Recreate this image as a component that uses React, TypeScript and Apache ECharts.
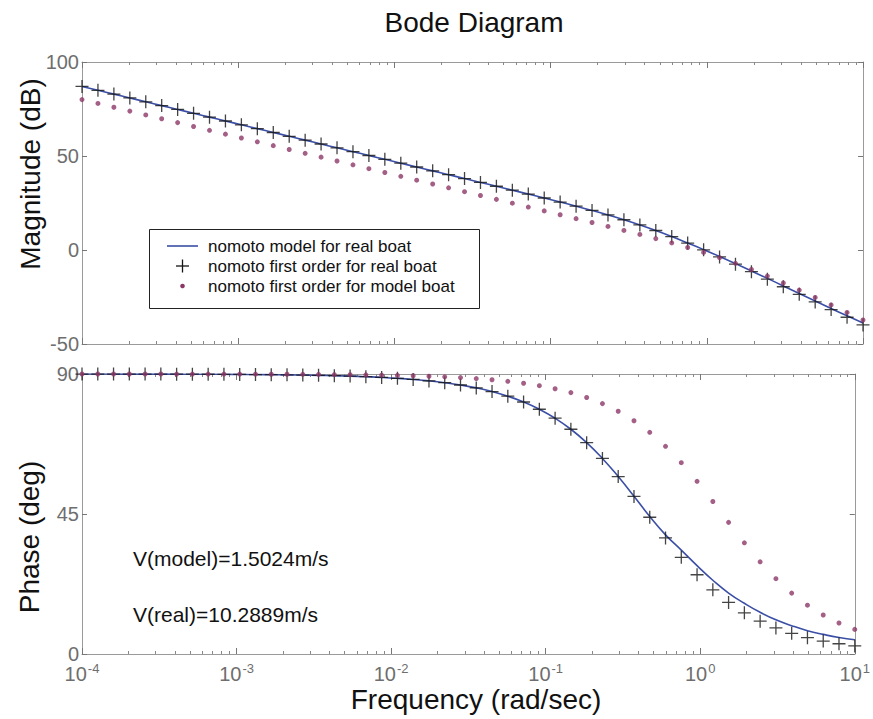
import React, { useEffect, useRef } from "react";
import * as echarts from "echarts";

// Frequencies (rad/sec), 50 log-spaced samples from 1e-4 to 10
const freq = [
  1.0e-4, 1.265e-4, 1.6e-4, 2.024e-4, 2.56e-4, 3.237e-4, 4.095e-4, 5.179e-4, 6.551e-4, 8.286e-4,
  1.048e-3, 1.326e-3, 1.677e-3, 2.121e-3, 2.683e-3, 3.393e-3, 4.292e-3, 5.429e-3, 6.866e-3, 8.685e-3,
  1.099e-2, 1.389e-2, 1.758e-2, 2.223e-2, 2.812e-2, 3.556e-2, 4.498e-2, 5.69e-2, 7.197e-2, 9.103e-2,
  0.1151, 0.1456, 0.1842, 0.233, 0.2947, 0.3728, 0.4715, 0.5964, 0.7543, 0.9541,
  1.207, 1.526, 1.931, 2.442, 3.089, 3.907, 4.942, 6.251, 7.906, 10.0,
];

// Magnitude (dB)
const magModelReal = [
  87.0, 84.96, 82.92, 80.88, 78.84, 76.8, 74.76, 72.71, 70.67, 68.63,
  66.59, 64.55, 62.51, 60.47, 58.43, 56.39, 54.35, 52.31, 50.27, 48.22,
  46.18, 44.14, 42.1, 40.05, 38.0, 35.95, 33.9, 31.83, 29.75, 27.65,
  25.51, 23.31, 21.03, 18.64, 16.09, 13.34, 10.36, 7.14, 3.7, 0.2,
  -3.45, -7.25, -11.15, -15.1, -19.1, -23.1, -27.1, -31.1, -35.0, -38.8,
];
const magFirstReal = [
  87.0, 84.96, 82.92, 80.88, 78.84, 76.8, 74.76, 72.71, 70.67, 68.63,
  66.59, 64.55, 62.51, 60.47, 58.43, 56.39, 54.35, 52.31, 50.27, 48.22,
  46.18, 44.14, 42.1, 40.05, 38.0, 35.95, 33.9, 31.83, 29.75, 27.65,
  25.51, 23.31, 21.03, 18.64, 16.09, 13.34, 10.36, 7.14, 3.7, 0.08,
  -3.69, -7.56, -11.51, -15.51, -19.54, -23.58, -27.64, -31.71, -35.78, -39.86,
];
const magFirstModel = [
  80.0, 77.96, 75.92, 73.88, 71.84, 69.8, 67.76, 65.71, 63.67, 61.63,
  59.59, 57.55, 55.51, 53.47, 51.43, 49.39, 47.35, 45.31, 43.27, 41.22,
  39.18, 37.14, 35.1, 33.06, 31.02, 28.98, 26.93, 24.89, 22.85, 20.8,
  18.75, 16.68, 14.61, 12.53, 10.42, 8.27, 6.06, 3.75, 1.33, -1.27,
  -4.07, -7.11, -10.38, -13.88, -17.54, -21.34, -25.23, -29.2, -33.2, -37.23,
];

// Phase (deg)
const phaseModelReal = [
  89.99, 89.98, 89.98, 89.97, 89.97, 89.96, 89.95, 89.93, 89.92, 89.9,
  89.87, 89.83, 89.79, 89.73, 89.66, 89.57, 89.46, 89.32, 89.13, 88.91,
  88.62, 88.25, 87.79, 87.2, 86.46, 85.53, 84.35, 82.86, 81.0, 78.67,
  75.79, 72.24, 67.94, 62.86, 57.04, 50.7, 44.2, 38.3, 33.4, 28.4,
  23.7, 19.6, 16.3, 13.4, 11.0, 9.1, 7.5, 6.3, 5.3, 4.6,
];
const phaseFirstReal = [
  89.99, 89.98, 89.98, 89.97, 89.97, 89.96, 89.95, 89.93, 89.92, 89.9,
  89.87, 89.83, 89.79, 89.73, 89.66, 89.57, 89.46, 89.32, 89.13, 88.91,
  88.62, 88.25, 87.79, 87.2, 86.46, 85.53, 84.35, 82.86, 81.0, 78.67,
  75.79, 72.24, 67.94, 62.86, 57.04, 50.64, 43.95, 37.31, 31.07, 25.48,
  20.64, 16.59, 13.25, 10.55, 8.37, 6.64, 5.26, 4.16, 3.29, 2.6,
];
const phaseFirstModel = [
  90.0, 89.99, 89.99, 89.99, 89.99, 89.99, 89.98, 89.98, 89.97, 89.97,
  89.96, 89.95, 89.93, 89.91, 89.89, 89.86, 89.82, 89.78, 89.72, 89.64,
  89.55, 89.43, 89.27, 89.08, 88.84, 88.53, 88.15, 87.65, 87.03, 86.25,
  85.26, 84.02, 82.45, 80.48, 78.02, 74.98, 71.25, 66.76, 61.49, 55.51,
  49.01, 42.31, 35.73, 29.63, 24.21, 19.57, 15.7, 12.53, 9.96, 7.91,
];

const legendNames = [
  "nomoto model for real boat",
  "nomoto first order for real boat",
  "nomoto first order for model boat",
];
const annotations = ["V(model)=1.5024m/s", "V(real)=10.2889m/s"];

const FONT = '"Liberation Sans", Arial, Helvetica, sans-serif';
const AXIS_COLOR = "#9a9a9a";
const LABEL_COLOR = "#6e6e6e";
const BLUE = "#3b4fa6";
const BLACK = "#151515";
const PURPLE = "#8c3767";
const PLUS = "path://M45,0H55V45H100V55H55V100H45V55H0V45H45Z";

const minorTicks: number[] = [];
for (let e = -4; e < 1; e++) {
  for (let d = 2; d <= 9; d++) minorTicks.push(d * Math.pow(10, e));
}

const pair = (xs: number[], ys: number[]) => xs.map((x, i) => [x, ys[i]]);

export default function App() {
  const ref = useRef<HTMLDivElement>(null);
  useEffect(() => {
    document.body.style.margin = "0";
    const chart = echarts.init(ref.current!, null, { renderer: "svg" });
    const logBase = { type: "log", logBase: 10, min: 1e-4, max: 10, splitLine: { show: false } };
    const axisLine = { show: true, onZero: false, lineStyle: { color: AXIS_COLOR, width: 1 } };
    const majorX = (gridIndex: number, position: string, labels: boolean) => ({
      ...logBase,
      gridIndex,
      position,
      axisLine,
      axisTick: { show: true, inside: true, length: 6, lineStyle: { color: "#777" } },
      axisLabel: labels
        ? {
            show: true,
            margin: 8,
            fontFamily: FONT,
            formatter: (v: number) => `{b|10}{s|${Math.round(Math.log10(v))}}`,
            rich: {
              b: { fontSize: 20, color: LABEL_COLOR, fontFamily: FONT, verticalAlign: "bottom", lineHeight: 22 },
              s: { fontSize: 13, color: LABEL_COLOR, fontFamily: FONT, verticalAlign: "top", lineHeight: 14, padding: [0, 0, 16, 1] },
            },
          }
        : { show: false },
    });
    const minorX = (gridIndex: number, position: string) => ({
      ...logBase,
      gridIndex,
      position,
      axisLine: { show: false, onZero: false },
      axisLabel: { show: false },
      axisTick: { show: true, inside: true, length: 3, customValues: minorTicks, lineStyle: { color: "#888" } },
    });
    const yAx = (gridIndex: number, position: string, min: number, max: number, interval: number, labels: boolean) => ({
      type: "value",
      gridIndex,
      position,
      min,
      max,
      interval,
      splitLine: { show: false },
      axisLine,
      axisTick: { show: true, inside: true, length: 5, lineStyle: { color: "#777" } },
      axisLabel: labels
        ? { show: true, margin: 3, fontSize: 20, color: LABEL_COLOR, fontFamily: FONT }
        : { show: false },
    });
    const lineS = (xi: number, yi: number, ys: number[]) => ({
      name: legendNames[0],
      type: "line",
      xAxisIndex: xi,
      yAxisIndex: yi,
      data: pair(freq, ys),
      showSymbol: false,
      smooth: true,
      lineStyle: { color: BLUE, width: 1.6 },
      z: 2,
    });
    const plusS = (xi: number, yi: number, ys: number[]) => ({
      name: legendNames[1],
      type: "scatter",
      xAxisIndex: xi,
      yAxisIndex: yi,
      data: pair(freq, ys),
      symbol: PLUS,
      symbolSize: 13,
      clip: false,
      itemStyle: { color: BLACK },
      z: 3,
    });
    const dotS = (xi: number, yi: number, ys: number[]) => ({
      name: legendNames[2],
      type: "scatter",
      xAxisIndex: xi,
      yAxisIndex: yi,
      data: pair(freq, ys),
      symbol: "circle",
      symbolSize: 5,
      clip: false,
      itemStyle: { color: PURPLE },
      z: 4,
    });
    const txt = (text: string, x: number, y: number, size: number, extra: any = {}) => ({
      type: "text",
      x,
      y,
      ...extra,
      style: { text, fontSize: size, fontFamily: FONT, fill: "#111", align: "center", verticalAlign: "middle", ...(extra.style || {}) },
    });
    const option: any = {
      animation: false,
      backgroundColor: "#ffffff",
      grid: [
        { left: 82, top: 62, width: 781, height: 282 },
        { left: 82, top: 374, width: 781, height: 280 },
      ],
      xAxis: [
        majorX(0, "bottom", false),
        majorX(0, "top", false),
        majorX(1, "bottom", true),
        majorX(1, "top", false),
        minorX(0, "bottom"),
        minorX(0, "top"),
        minorX(1, "bottom"),
        minorX(1, "top"),
      ],
      yAxis: [
        yAx(0, "left", -50, 100, 50, true),
        yAx(0, "right", -50, 100, 50, false),
        yAx(1, "left", 0, 90, 45, true),
        yAx(1, "right", 0, 90, 45, false),
      ],
      series: [
        lineS(0, 0, magModelReal),
        plusS(0, 0, magFirstReal),
        dotS(0, 0, magFirstModel),
        lineS(2, 2, phaseModelReal),
        plusS(2, 2, phaseFirstReal),
        dotS(2, 2, phaseFirstModel),
      ],
      graphic: [
        txt("Bode Diagram", 474, 22, 28),
        txt("Magnitude (dB)", 30, 174, 28, { rotation: Math.PI / 2 }),
        txt("Phase (deg)", 29, 537, 28, { rotation: Math.PI / 2 }),
        txt("Frequency (rad/sec)", 476, 699, 28),
        txt(annotations[0], 133, 558, 21, { style: { align: "left" } }),
        txt(annotations[1], 133, 614, 21, { style: { align: "left" } }),
        {
          type: "group",
          z: 100,
          children: [
            { type: "rect", shape: { x: 149.5, y: 229.5, width: 330, height: 79 }, style: { fill: "#fff", stroke: "#222", lineWidth: 1 } },
            { type: "line", shape: { x1: 167, y1: 246, x2: 198, y2: 246 }, style: { stroke: BLUE, lineWidth: 1.6 } },
            { type: "line", shape: { x1: 176, y1: 266, x2: 189, y2: 266 }, style: { stroke: BLACK, lineWidth: 1.3 } },
            { type: "line", shape: { x1: 182.5, y1: 259.5, x2: 182.5, y2: 272.5 }, style: { stroke: BLACK, lineWidth: 1.3 } },
            { type: "circle", shape: { cx: 182.5, cy: 286, r: 2.3 }, style: { fill: PURPLE } },
            txt(legendNames[0], 208, 246, 17, { style: { align: "left" } }),
            txt(legendNames[1], 208, 266, 17, { style: { align: "left" } }),
            txt(legendNames[2], 208, 286, 17, { style: { align: "left" } }),
          ],
        },
      ],
    };
    chart.setOption(option);
    return () => chart.dispose();
  }, []);
  return <div ref={ref} style={{ width: 873, height: 719 }} />;
}
